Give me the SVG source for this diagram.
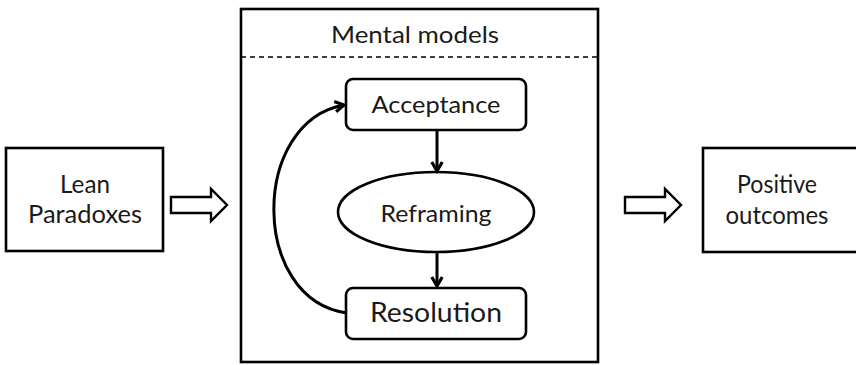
<svg xmlns="http://www.w3.org/2000/svg" width="856" height="365" viewBox="0 0 856 365">
<style>
.box{fill:#fff;stroke:#000;stroke-width:2.6}
.t{font-family:Lato,"Open Sans","Liberation Sans",sans-serif;fill:#1a1a1a;text-anchor:middle}
.c{fill:none;stroke:#000;stroke-width:3}
.ha{fill:#fff;stroke:#000;stroke-width:2.4;stroke-linejoin:miter}
</style>
<defs>
<marker id="ah" viewBox="0 0 10 10" refX="8" refY="5" markerWidth="4.4" markerHeight="4.4" orient="auto" markerUnits="strokeWidth">
<path d="M1.2,1 L8,5 L1.2,9" fill="none" stroke="#000" stroke-width="2.4" stroke-linejoin="miter"/>
</marker>
</defs>
<rect width="856" height="365" fill="#fff"/>
<g id="lean">
<rect class="box" x="6" y="148" width="157" height="103"/>
<text class="t" x="85" y="193" font-size="25" textLength="50" lengthAdjust="spacingAndGlyphs">Lean</text>
<text class="t" x="85" y="223" font-size="25" textLength="114" lengthAdjust="spacingAndGlyphs">Paradoxes</text>
</g>
<g id="mental">
<rect class="box" x="241" y="9" width="357" height="353"/>
<line x1="241" y1="57" x2="598" y2="57" stroke="#000" stroke-width="1.4" stroke-dasharray="5,4"/>
<text class="t" x="415" y="43" font-size="24" textLength="168" lengthAdjust="spacingAndGlyphs">Mental models</text>
</g>
<g id="acceptance">
<rect class="box" x="346" y="79" width="180" height="51" rx="7"/>
<text class="t" x="436" y="113" font-size="24" textLength="129" lengthAdjust="spacingAndGlyphs">Acceptance</text>
</g>
<g id="reframing">
<ellipse class="box" cx="436" cy="212" rx="98" ry="40"/>
<text class="t" x="436" y="222" font-size="24" textLength="111" lengthAdjust="spacingAndGlyphs">Reframing</text>
</g>
<g id="resolution">
<rect class="box" x="346" y="288" width="180" height="51" rx="7"/>
<text class="t" x="436" y="322" font-size="27" textLength="132" lengthAdjust="spacingAndGlyphs">Resolution</text>
</g>
<g id="positive">
<rect class="box" x="703" y="148" width="160" height="104"/>
<text class="t" x="777" y="193" font-size="25" textLength="80" lengthAdjust="spacingAndGlyphs">Positive</text>
<text class="t" x="777" y="224" font-size="25" textLength="103" lengthAdjust="spacingAndGlyphs">outcomes</text>
</g>
<g id="connectors">
<polygon class="ha" points="171,197 211,197 211,189 227,205 211,221 211,213 171,213"/>
<polygon class="ha" points="625,197 665,197 665,189 681,205 665,221 665,213 625,213"/>
<line class="c" x1="437" y1="130" x2="437" y2="171" marker-end="url(#ah)"/>
<line class="c" x1="437" y1="252" x2="437" y2="286" marker-end="url(#ah)"/>
<path class="c" d="M347,313 C250,300 250,122 344,105" marker-end="url(#ah)"/>
</g>
</svg>
